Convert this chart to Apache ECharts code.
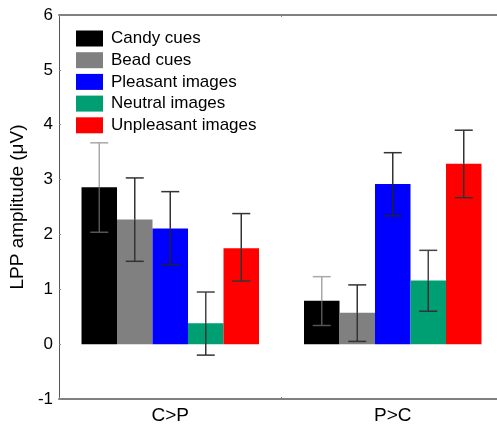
<!DOCTYPE html>
<html>
<head>
<meta charset="utf-8">
<script src="https://cdn.jsdelivr.net/npm/echarts@6/dist/echarts.min.js"></script>
<style>
  html, body { margin: 0; padding: 0; background: #fff; overflow: hidden; }
  #chart { width: 520px; height: 425px; }
</style>
</head>
<body>
<div id="chart"></div>
<script>
// Conditions on the x axis
const categories = ['C>P', 'P>C'];
const seriesNames = ['Candy cues', 'Bead cues', 'Pleasant images', 'Neutral images', 'Unpleasant images'];
const seriesColors = ['#000000', '#808080', '#0000ff', '#009e73', '#ff0000'];

// Mean LPP amplitude per condition (µV)
const candyMean = [2.86, 0.79];
const beadMean = [2.27, 0.57];
const pleasantMean = [2.11, 2.92];
const neutralMean = [0.38, 1.16];
const unpleasantMean = [1.75, 3.29];

// Error bar bounds (lower, upper)
const candyLow = [2.04, 0.34], candyHigh = [3.67, 1.23];
const beadLow = [1.51, 0.05], beadHigh = [3.03, 1.08];
const pleasantLow = [1.45, 2.34], pleasantHigh = [2.78, 3.49];
const neutralLow = [-0.20, 0.60], neutralHigh = [0.95, 1.71];
const unpleasantLow = [1.15, 2.67], unpleasantHigh = [2.38, 3.90];

const yTicks = [-1, 0, 1, 2, 3, 4, 5, 6];

const means = [candyMean, beadMean, pleasantMean, neutralMean, unpleasantMean];
const lows = [candyLow, beadLow, pleasantLow, neutralLow, unpleasantLow];
const highs = [candyHigh, beadHigh, pleasantHigh, neutralHigh, unpleasantHigh];

const BAR_W = 35.5;
const CAP_W = 18;
// whisker colour above the bar top, and inside the bar
const whiskerOut = ['#a8a8a8', '#333333', '#333333', '#444444', '#333333'];
const whiskerIn = ['#555555', '#333333', '#222222', '#333333', '#333333'];

const chart = echarts.init(document.getElementById('chart'), null, { renderer: 'canvas' });

const barSeries = seriesNames.map((name, i) => ({
  name: name,
  type: 'bar',
  data: means[i],
  barWidth: BAR_W,
  barGap: '0%',
  itemStyle: { color: seriesColors[i] },
  z: 2
}));

const errSeries = seriesNames.map((name, i) => ({
  type: 'custom',
  name: name + ' error',
  z: 3,
  silent: true,
  data: categories.map((c, j) => [j, means[i][j], lows[i][j], highs[i][j]]),
  renderItem: function (params, api) {
    const cat = api.value(0);
    const x = api.coord([cat, 0])[0] + (i - 2) * BAR_W;
    const yMean = api.coord([cat, api.value(1)])[1];
    const yLow = api.coord([cat, api.value(2)])[1];
    const yHigh = api.coord([cat, api.value(3)])[1];
    const s1 = { stroke: whiskerOut[i], lineWidth: 1.5 };
    const s2 = { stroke: whiskerIn[i], lineWidth: 1.5 };
    return {
      type: 'group',
      children: [
        { type: 'line', shape: { x1: x, y1: yHigh, x2: x, y2: yMean }, style: s1 },
        { type: 'line', shape: { x1: x - CAP_W / 2, y1: yHigh, x2: x + CAP_W / 2, y2: yHigh }, style: s1 },
        { type: 'line', shape: { x1: x, y1: yMean, x2: x, y2: yLow }, style: s2 },
        { type: 'line', shape: { x1: x - CAP_W / 2, y1: yLow, x2: x + CAP_W / 2, y2: yLow }, style: s2 }
      ]
    };
  }
}));

chart.setOption({
  animation: false,
  textStyle: { fontFamily: 'Liberation Sans, Arial, sans-serif' },
  grid: {
    left: 59, right: 16, top: 15, bottom: 25,
    show: false
  },
  legend: {
    data: seriesNames,
    orient: 'vertical',
    left: 76, top: 30,
    itemWidth: 27, itemHeight: 16, itemGap: 4.7,
    icon: 'rect',
    padding: 0,
    textStyle: { fontSize: 17, color: '#000', lineHeight: 16, padding: [0, 0, 0, 3] }
  },
  xAxis: [{
    type: 'category',
    data: categories,
    axisLine: { onZero: false, lineStyle: { color: '#808080', width: 2 } },
    axisTick: { show: true, inside: true, length: 2, lineStyle: { color: '#808080' } },
    axisLabel: { fontSize: 19, color: '#000', margin: 7 }
  }, {
    // top frame line
    type: 'category',
    position: 'top',
    data: categories,
    axisLine: { show: true, onZero: false, lineStyle: { color: '#808080', width: 2 } },
    axisTick: { show: true, inside: true, length: 2, lineStyle: { color: '#808080' } },
    axisLabel: { show: false }
  }],
  yAxis: {
    type: 'value',
    min: yTicks[0], max: yTicks[yTicks.length - 1], interval: 1,
    name: 'LPP amplitude (\u03bcV)',
    nameLocation: 'middle',
    nameGap: 32,
    nameRotate: 90,
    nameTextStyle: { fontSize: 19, color: '#000' },
    axisLine: { show: true, lineStyle: { color: '#555', width: 1 } },
    axisTick: { show: true, inside: true, length: 2, lineStyle: { color: '#888' } },
    axisLabel: { fontSize: 17, color: '#000', margin: 6 },
    splitLine: { show: false }
  },
  series: barSeries.concat(errSeries)
});
</script>
</body>
</html>
